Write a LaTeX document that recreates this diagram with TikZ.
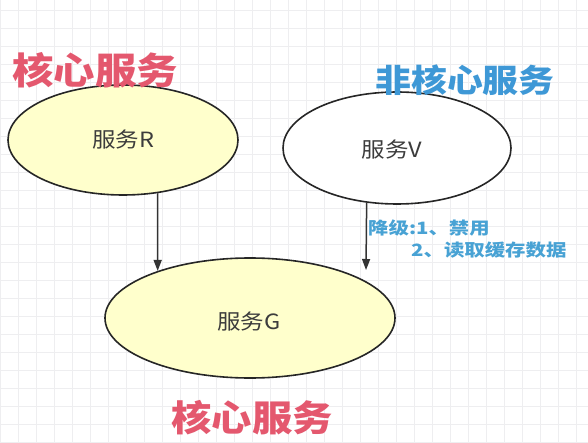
\documentclass[tikz,border=0pt]{standalone}
\usepackage{fontspec}
\setmainfont{Noto Sans CJK SC}
\usetikzlibrary{shapes.geometric,arrows.meta}
\definecolor{titlered}{RGB}{228,88,110}
\definecolor{titleblue}{RGB}{62,152,214}
\definecolor{lblblue}{RGB}{72,162,212}
\definecolor{svcfill}{RGB}{255,255,204}
\definecolor{svctext}{RGB}{60,60,60}
\definecolor{gridc}{RGB}{238,238,240}
\tikzset{
  svc/.style={ellipse, draw=black!85, line width=1.6pt, inner sep=0pt},
  svct/.style={text=svctext, font=\fontsize{21}{24}\selectfont, inner sep=0pt},
  arr/.style={draw=black!80, line width=1.5pt, -{Triangle[length=11pt,width=8pt]}},
  ttl/.style={font=\fontsize{#1}{#1}\selectfont\bfseries, inner sep=0pt},
  lbl/.style={text=lblblue, font=\fontsize{17}{19}\selectfont\bfseries, inner sep=0pt, anchor=west}
}
\newcommand{\hs}[1]{\scalebox{1.12}[1]{#1}}
\newcommand{\hl}[1]{\scalebox{1.2}[1]{#1}}
\begin{document}
\begin{tikzpicture}[x=1pt,y=1pt]
\useasboundingbox (0,0) rectangle (588,442);
\fill[white] (0,0) rectangle (588,442);
\draw[gridc, line width=0.6pt] (0,0) grid[step=18] (588,442);
% ellipses
\node[svc, fill=svcfill, minimum width=230, minimum height=110] (R) at (123,302) {};
\node[svc, fill=white, minimum width=228, minimum height=112] (V) at (397,294) {};
\node[svc, fill=svcfill, minimum width=290, minimum height=120] (G) at (250,124) {};
\node[svct] (Rt) at (123,302) {\hs{服务R}};
\node[svct] (Vt) at (392,292) {\hs{服务V}};
\node[svct] (Gt) at (249,120) {\hs{服务G}};
% titles
\node[ttl=37, text=titlered] (t1) at (95,372) {\hs{核心服务}};
\node[ttl=32, text=titleblue] (t2) at (465,362) {\hs{非核心服务}};
\node[ttl=36, text=titlered] (t3) at (252,24) {\hs{核心服务}};
% arrows
\coordinate (vG) at (366,172);
\draw[arr] (R.-57) -- (G.153.7);
\draw[arr] (V.241) -- (vG);
% labels
\node[lbl] (l1) at (368,214) {\hl{降级:1、禁用}};
\node[lbl] (l2) at (411,192) {\hl{2、读取缓存数据}};
\end{tikzpicture}
\end{document}
